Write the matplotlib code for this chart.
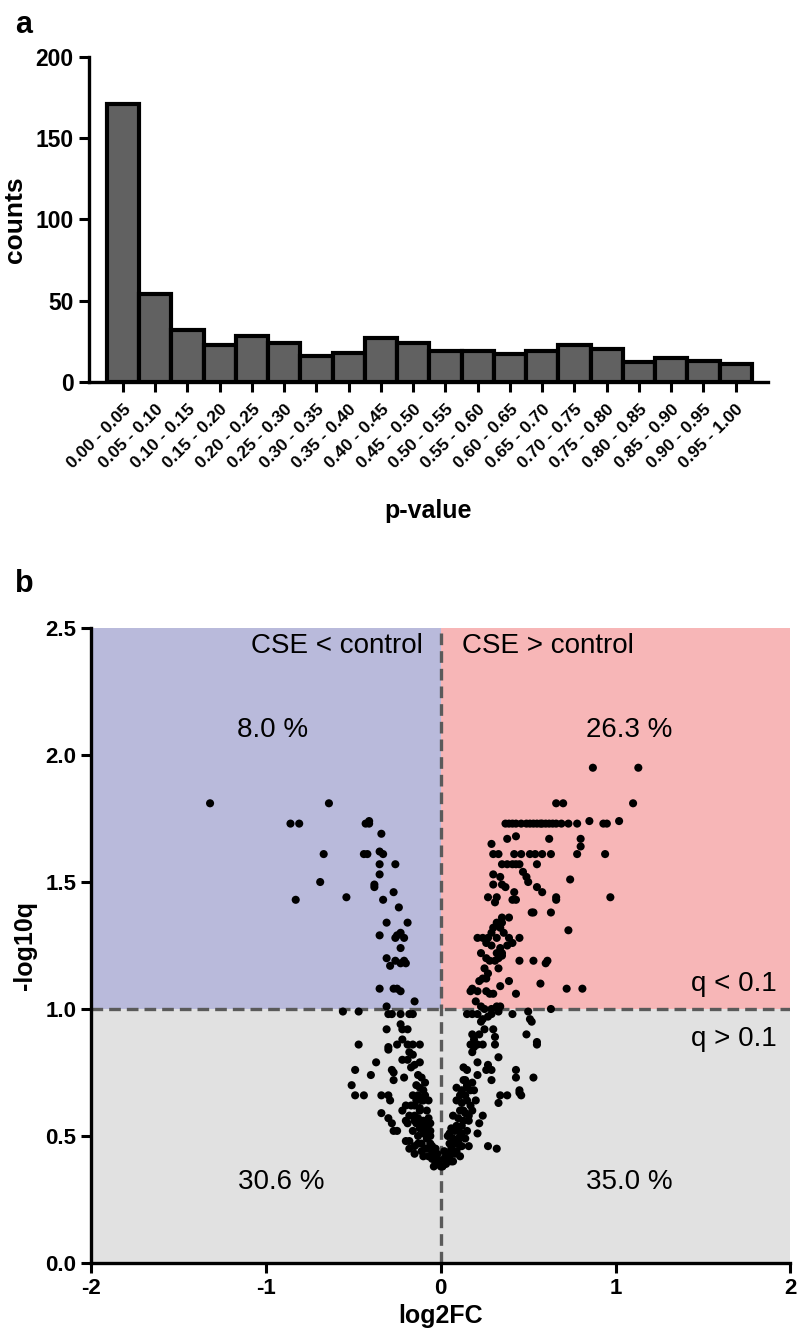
import numpy as np
import matplotlib
matplotlib.use("Agg")
import matplotlib.pyplot as plt

plt.rcParams['font.family'] = ['Liberation Sans', 'DejaVu Sans']
plt.rcParams['axes.unicode_minus'] = False

# ---- panel a: p-value histogram ----
bins = ['0.00 - 0.05', '0.05 - 0.10', '0.10 - 0.15', '0.15 - 0.20', '0.20 - 0.25',
        '0.25 - 0.30', '0.30 - 0.35', '0.35 - 0.40', '0.40 - 0.45', '0.45 - 0.50',
        '0.50 - 0.55', '0.55 - 0.60', '0.60 - 0.65', '0.65 - 0.70', '0.70 - 0.75',
        '0.75 - 0.80', '0.80 - 0.85', '0.85 - 0.90', '0.90 - 0.95', '0.95 - 1.00']
counts = [171, 54, 32, 23, 28, 24, 16, 18, 27, 24, 19, 19, 17, 19, 23, 20, 12, 15, 13, 11]

# ---- panel b: volcano plot ----
# CSE < control, q < 0.1
down_x = [-1.32, -0.86, -0.81, -0.83, -0.64, -0.43, -0.41, -0.41, -0.34, -0.67, -0.44, -0.42,
          -0.35, -0.33, -0.35, -0.26, -0.35, -0.69, -0.38, -0.38, -0.54, -0.27, -0.33, -0.24,
          -0.31, -0.19, -0.35, -0.26, -0.25, -0.23, -0.21, -0.23, -0.31, -0.26, -0.23, -0.20,
          -0.35, -0.27, -0.25, -0.23, -0.15, -0.31, -0.29, -0.21]
down_y = [1.81, 1.73, 1.73, 1.43, 1.81, 1.73, 1.74, 1.73, 1.69, 1.61, 1.61, 1.61,
          1.62, 1.61, 1.57, 1.57, 1.53, 1.50, 1.49, 1.48, 1.44, 1.46, 1.43, 1.40,
          1.34, 1.34, 1.29, 1.28, 1.29, 1.30, 1.28, 1.24, 1.20, 1.19, 1.18, 1.18,
          1.08, 1.08, 1.08, 1.07, 1.03, 1.01, 1.17, 1.19]

# CSE > control, q < 0.1
up_x = [0.87, 1.13, 0.66, 0.70, 1.10,
        0.37, 0.39, 0.41, 0.43, 0.46, 0.49, 0.51, 0.53, 0.55, 0.57, 0.58, 0.60, 0.62, 0.64,
        0.66, 0.69, 0.73, 0.78, 0.85, 0.93, 0.95, 1.02,
        0.38, 0.43, 0.62, 0.80, 0.80, 0.29,
        0.30, 0.33, 0.42, 0.46, 0.51, 0.54, 0.58, 0.63, 0.78, 0.94,
        0.35, 0.38, 0.41, 0.43, 0.45, 0.55,
        0.47, 0.49, 0.50, 0.30, 0.34, 0.30, 0.35, 0.37, 0.55, 0.42, 0.74, 0.58, 0.66, 0.66,
        0.97, 0.27, 0.32, 0.31, 0.41, 0.43, 0.52, 0.53, 0.63, 0.35, 0.39, 0.32, 0.35, 0.30,
        0.34, 0.29, 0.73,
        0.21, 0.24, 0.27, 0.32, 0.39, 0.45,
        0.26, 0.29, 0.34, 0.38, 0.41, 0.23, 0.32, 0.35,
        0.26, 0.28, 0.31, 0.33, 0.35, 0.45, 0.53, 0.61, 0.60,
        0.25, 0.33, 0.24, 0.26, 0.22, 0.39, 0.34, 0.57, 0.72, 0.81,
        0.17, 0.18, 0.21, 0.26, 0.28, 0.30, 0.43,
        0.23, 0.25, 0.29, 0.32, 0.34, 0.63, 0.20, 0.27, 0.36]
up_y = [1.95, 1.95, 1.81, 1.81, 1.81,
        1.73, 1.73, 1.73, 1.73, 1.73, 1.73, 1.73, 1.73, 1.73, 1.73, 1.73, 1.73, 1.73, 1.73,
        1.73, 1.73, 1.73, 1.73, 1.74, 1.73, 1.73, 1.74,
        1.67, 1.68, 1.67, 1.67, 1.64, 1.65,
        1.61, 1.61, 1.61, 1.61, 1.61, 1.61, 1.61, 1.61, 1.61, 1.61,
        1.57, 1.57, 1.57, 1.57, 1.57, 1.57,
        1.54, 1.52, 1.50, 1.53, 1.52, 1.49, 1.49, 1.48, 1.48, 1.46, 1.51, 1.46, 1.44, 1.43,
        1.44, 1.44, 1.44, 1.42, 1.43, 1.43, 1.38, 1.38, 1.38, 1.36, 1.36, 1.34, 1.34, 1.32,
        1.32, 1.30, 1.31,
        1.28, 1.28, 1.28, 1.28, 1.28, 1.28,
        1.26, 1.25, 1.24, 1.25, 1.26, 1.22, 1.22, 1.22,
        1.20, 1.19, 1.19, 1.20, 1.21, 1.19, 1.19, 1.19, 1.18,
        1.16, 1.16, 1.12, 1.12, 1.11, 1.11, 1.09, 1.10, 1.08, 1.08,
        1.07, 1.08, 1.07, 1.07, 1.06, 1.06, 1.06,
        1.01, 1.00, 1.00, 1.01, 1.01, 1.00, 1.03, 1.14, 1.30]

# q > 0.1, log2FC < 0
ns_left_x = [-0.56, -0.47, -0.30, -0.28, -0.23, -0.18, -0.16, -0.23, -0.31, -0.22, -0.19, -0.22,
             -0.47, -0.30, -0.30, -0.25, -0.19, -0.16, -0.12, -0.18, -0.16, -0.37, -0.22, -0.19,
             -0.12, -0.17, -0.15, -0.49, -0.28, -0.27, -0.40, -0.13, -0.11, -0.21, -0.27, -0.14,
             -0.51, -0.49, -0.44, -0.34, -0.30, -0.29, -0.10, -0.09, -0.10, -0.15, -0.12, -0.18,
             -0.15, -0.13, -0.10, -0.07, -0.34, -0.30, -0.28, -0.20, -0.27, -0.25, -0.18, -0.15,
             -0.14, -0.12, -0.10, -0.08, -0.06, -0.04, -0.02, -0.10, -0.13, -0.16, -0.08, -0.06,
             -0.11, -0.09, -0.05, -0.03, -0.01, -0.07, -0.12, -0.15, -0.17, -0.19, -0.05, -0.02,
             -0.04, -0.20, -0.18, -0.15, -0.10, -0.08, -0.06, -0.11, -0.13, -0.07, -0.09, -0.12,
             -0.16, -0.14, -0.20, -0.22, -0.03, -0.05, -0.08, -0.11, -0.13, -0.09, -0.06, -0.02]
ns_left_y = [0.99, 0.99, 0.98, 0.98, 0.98, 0.98, 0.98, 0.94, 0.92, 0.92, 0.92, 0.88,
             0.86, 0.85, 0.84, 0.86, 0.86, 0.86, 0.86, 0.83, 0.82, 0.79, 0.80, 0.80,
             0.79, 0.77, 0.78, 0.76, 0.76, 0.75, 0.74, 0.74, 0.73, 0.73, 0.72, 0.70,
             0.70, 0.66, 0.66, 0.66, 0.66, 0.64, 0.68, 0.66, 0.64, 0.62, 0.61, 0.58,
             0.58, 0.57, 0.56, 0.57, 0.59, 0.57, 0.55, 0.56, 0.52, 0.52, 0.48, 0.46,
             0.55, 0.53, 0.51, 0.49, 0.47, 0.44, 0.41, 0.55, 0.50, 0.52, 0.53, 0.50,
             0.47, 0.45, 0.43, 0.40, 0.39, 0.42, 0.60, 0.56, 0.62, 0.55, 0.46, 0.43,
             0.38, 0.48, 0.45, 0.43, 0.42, 0.60, 0.55, 0.64, 0.66, 0.64, 0.71, 0.69,
             0.66, 0.64, 0.62, 0.60, 0.45, 0.41, 0.45, 0.44, 0.47, 0.51, 0.52, 0.39]

# q > 0.1, log2FC > 0
ns_right_x = [0.15, 0.18, 0.21, 0.24, 0.27, 0.29, 0.33, 0.23, 0.41, 0.50, 0.52, 0.51,
              0.30, 0.49, 0.55, 0.18, 0.19, 0.22, 0.17, 0.19, 0.21, 0.24, 0.18, 0.31,
              0.31, 0.55, 0.33, 0.21, 0.27, 0.29, 0.26, 0.43, 0.43, 0.53, 0.13, 0.15,
              0.21, 0.29, 0.13, 0.15, 0.18, 0.09, 0.12, 0.15, 0.17, 0.11, 0.14, 0.34,
              0.38, 0.45, 0.46, 0.45, 0.33, 0.09, 0.12, 0.15, 0.17, 0.11, 0.14, 0.07,
              0.24, 0.22, 0.21, 0.06, 0.09, 0.12, 0.15, 0.04, 0.07, 0.11, 0.14, 0.16,
              0.11, 0.27, 0.32, 0.02, 0.04, 0.06, 0.08, 0.03, 0.05, 0.09, 0.10, 0.01,
              0.00, 0.02, 0.07, 0.13, 0.10, 0.12, 0.08, 0.05, 0.11, 0.16, 0.18, 0.20,
              0.19, 0.14, 0.25, 0.13, 0.16, 0.06, 0.03, 0.09, 0.12, 0.05, 0.08, 0.10]
ns_right_y = [0.98, 0.98, 0.98, 0.96, 0.97, 0.98, 0.99, 0.95, 0.98, 0.99, 0.95, 0.96,
              0.92, 0.90, 0.87, 0.90, 0.88, 0.90, 0.86, 0.85, 0.86, 0.86, 0.83, 0.89,
              0.86, 0.86, 0.81, 0.79, 0.78, 0.76, 0.76, 0.76, 0.73, 0.73, 0.77, 0.76,
              0.74, 0.72, 0.72, 0.70, 0.71, 0.69, 0.68, 0.69, 0.68, 0.66, 0.66, 0.66,
              0.66, 0.67, 0.66, 0.68, 0.63, 0.64, 0.63, 0.64, 0.62, 0.60, 0.59, 0.58,
              0.58, 0.55, 0.51, 0.53, 0.54, 0.54, 0.52, 0.50, 0.49, 0.50, 0.49, 0.46,
              0.46, 0.46, 0.45, 0.41, 0.43, 0.45, 0.47, 0.39, 0.42, 0.44, 0.48, 0.38,
              0.38, 0.44, 0.40, 0.56, 0.57, 0.51, 0.52, 0.47, 0.42, 0.56, 0.60, 0.64,
              0.68, 0.72, 0.92, 0.60, 0.58, 0.40, 0.42, 0.48, 0.46, 0.51, 0.43, 0.53]

fig = plt.figure(figsize=(8, 13.42), dpi=100)

# ---------------- panel a ----------------
ax1 = fig.add_axes([0.111, 0.7154, 0.849, 0.2421])
pos = np.arange(len(counts))
ax1.bar(pos, counts, width=1.0, color='#616161', edgecolor='black', linewidth=3)
ax1.set_xlim(-1.06, 20.0)
ax1.set_ylim(0, 200)
ax1.set_yticks([0, 50, 100, 150, 200])
ax1.set_xticks(pos)
ax1.set_xticklabels(bins, rotation=45, ha='right', rotation_mode='anchor',
                    fontsize=12.5, fontweight='bold')
for lbl in ax1.get_yticklabels():
    lbl.set_fontweight('bold')
    lbl.set_fontsize(16.5)
ax1.tick_params(axis='both', direction='out', length=7, width=2.2, pad=4)
ax1.tick_params(axis='x', pad=7)
for s in ['top', 'right']:
    ax1.spines[s].set_visible(False)
for s in ['left', 'bottom']:
    ax1.spines[s].set_linewidth(2.4)
ax1.set_ylabel('counts', fontsize=19, fontweight='bold', labelpad=6)
ax1.set_xlabel('p-value', fontsize=18, fontweight='bold', labelpad=20)

# ---------------- panel b ----------------
ax2 = fig.add_axes([0.114, 0.0589, 0.874, 0.4731])
ax2.set_xlim(-2, 2)
ax2.set_ylim(0, 2.5)
ax2.axhspan(0, 1, color='#e1e1e1', lw=0, zorder=0)
ax2.fill_between([-2, 0], 1, 2.5, color='#b9badb', lw=0, zorder=0)
ax2.fill_between([0, 2], 1, 2.5, color='#f7b6b7', lw=0, zorder=0)
ax2.axhline(1.0, color='#5a5a5a', lw=2.4, ls=(0, (3.5, 1.8)), zorder=1)
ax2.axvline(0.0, color='#5a5a5a', lw=2.4, ls=(0, (3.5, 1.8)), zorder=1)

for xs, ys in [(down_x, down_y), (up_x, up_y), (ns_left_x, ns_left_y), (ns_right_x, ns_right_y)]:
    ax2.scatter(xs, ys, s=34, color='black', edgecolors='none', zorder=3)

ax2.text(-0.10, 2.48, 'CSE < control', ha='right', va='top', fontsize=20)
ax2.text(0.12, 2.48, 'CSE > control', ha='left', va='top', fontsize=20)
ax2.text(-0.96, 2.10, '8.0 %', ha='center', va='center', fontsize=20)
ax2.text(1.08, 2.10, '26.3 %', ha='center', va='center', fontsize=20)
ax2.text(-0.91, 0.32, '30.6 %', ha='center', va='center', fontsize=20)
ax2.text(1.08, 0.32, '35.0 %', ha='center', va='center', fontsize=20)
ax2.text(1.92, 1.10, 'q < 0.1', ha='right', va='center', fontsize=20)
ax2.text(1.92, 0.88, 'q > 0.1', ha='right', va='center', fontsize=20)

ax2.set_xticks([-2, -1, 0, 1, 2])
ax2.set_yticks([0.0, 0.5, 1.0, 1.5, 2.0, 2.5])
ax2.set_yticklabels(['0.0', '0.5', '1.0', '1.5', '2.0', '2.5'])
for lbl in ax2.get_xticklabels() + ax2.get_yticklabels():
    lbl.set_fontweight('bold')
    lbl.set_fontsize(16)
ax2.tick_params(axis='both', direction='out', length=7, width=2.2)
for s in ['top', 'right']:
    ax2.spines[s].set_visible(False)
for s in ['left', 'bottom']:
    ax2.spines[s].set_linewidth(2.4)
ax2.set_xlabel('log2FC', fontsize=18, fontweight='bold', labelpad=4)
ax2.set_ylabel('-log10q', fontsize=18, fontweight='bold', labelpad=6)

fig.text(15 / 800, 1 - 33 / 1342, 'a', fontsize=22, fontweight='bold')
fig.text(15 / 800, 1 - 592 / 1342, 'b', fontsize=22, fontweight='bold')

fig.savefig('out.png', dpi=100)
